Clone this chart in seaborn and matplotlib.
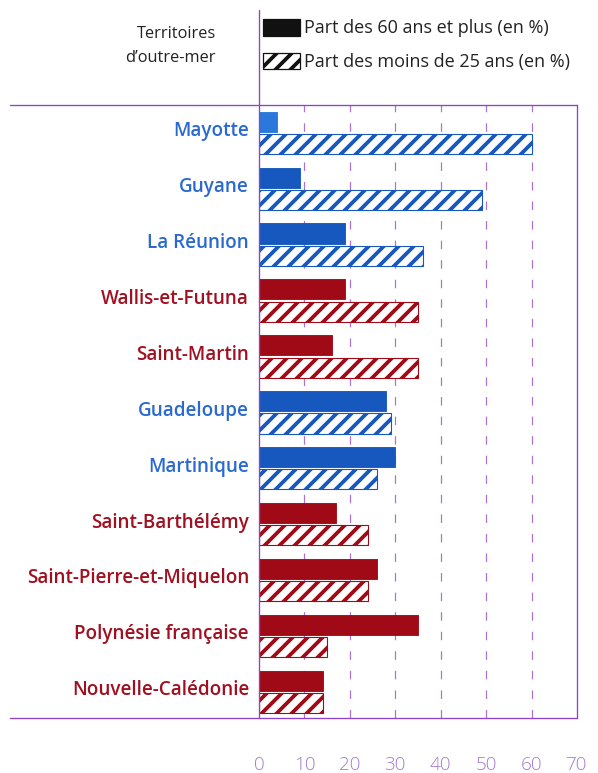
import pandas as pd
import numpy as np
import matplotlib.pyplot as plt
import matplotlib.transforms as mtransforms
from matplotlib.patches import Patch
from matplotlib.lines import Line2D
import seaborn as sns

# data
territoires = [
    "Mayotte", "Guyane", "La Réunion", "Wallis-et-Futuna", "Saint-Martin",
    "Guadeloupe", "Martinique", "Saint-Barthélémy", "Saint-Pierre-et-Miquelon",
    "Polynésie française", "Nouvelle-Calédonie",
]
statut = ["DROM", "DROM", "DROM", "COM", "COM", "DROM", "DROM", "COM", "COM", "COM", "COM"]
part_60_plus = [4, 9, 19, 19, 16, 28, 30, 17, 26, 35, 14]
part_moins_25 = [60, 49, 36, 35, 35, 29, 26, 24, 24, 15, 14]
series = ["Part des 60 ans et plus (en %)", "Part des moins de 25 ans (en %)"]
x_ticks = [0, 10, 20, 30, 40, 50, 60, 70]

BLUE = "#1658bd"
BLUE_LIGHT = "#2a78dc"
RED = "#a00a16"
PURPLE = "#8e44c4"
TICK_PURPLE = "#a57ad0"
DARK = "#222222"
couleurs = {"DROM": BLUE, "COM": RED}
couleurs_texte = {"DROM": "#2a6ad0", "COM": "#a01020"}

df = pd.DataFrame({
    "territoire": territoires * 2,
    "serie": [series[0]] * len(territoires) + [series[1]] * len(territoires),
    "valeur": part_60_plus + part_moins_25,
})

# sizes below were tuned at 80 dpi; dpi 90 gives the hatch spacing of the original
W, H, DPI = 598, 773, 90
k = 80 / DPI

sns.set_style("white")
plt.rcParams["font.family"] = ["Open Sans", "DejaVu Sans"]
plt.rcParams["hatch.linewidth"] = 3.4 * k

fig = plt.figure(figsize=(W / DPI, H / DPI), dpi=DPI)
ax = fig.add_axes([259 / W, 1 - 718 / H, (577 - 259) / W, (718 - 105) / H])

# dashed grid behind the bars
for v in x_ticks[1:-1]:
    ax.axvline(v, color=PURPLE, lw=1.1 * k, ls=(0, (7, 9)), alpha=0.75, zorder=0)

sns.barplot(data=df, y="territoire", x="valeur", hue="serie", hue_order=series,
            order=territoires, orient="h", width=0.8, gap=0.1, legend=False,
            ax=ax, zorder=2)

# colour each bar by territory status, hatch the under-25 series
for p in ax.patches:
    yc = p.get_y() + p.get_height() / 2
    i = int(round(yc))
    col = couleurs[statut[i]]
    if yc < i:
        if territoires[i] == "Mayotte":
            col = BLUE_LIGHT
        p.set_facecolor(col)
        p.set_edgecolor(col)
        p.set_linewidth(0.8 * k)
    else:
        p.set_facecolor("white")
        p.set_edgecolor(col)
        p.set_hatch("//")
        p.set_linewidth(1.0 * k)

ax.set_xlim(0, 70)
ax.set_ylim(10.47, -0.5)
ax.set_xticks(x_ticks)
ax.set_xticklabels([str(t) for t in x_ticks], color=TICK_PURPLE, fontsize=17 * k,
                   fontweight="light")
ax.tick_params(axis="x", length=0, pad=34 * k)
ax.tick_params(axis="y", length=0, pad=9 * k)
ax.set_xlabel("")
ax.set_ylabel("")

offset = mtransforms.ScaledTranslation(0, 4 / DPI, fig.dpi_scale_trans)
for lbl, st in zip(ax.get_yticklabels(), statut):
    lbl.set_color(couleurs_texte[st])
    lbl.set_fontsize(17 * k)
    lbl.set_fontweight("semibold")
    lbl.set_transform(lbl.get_transform() + offset)

for s in ["top", "bottom", "left", "right"]:
    ax.spines[s].set_visible(s == "right")
ax.spines["right"].set_color(PURPLE)
ax.spines["right"].set_linewidth(1.2 * k)

# frame lines running past the axes
fx = lambda px: px / W
fy = lambda py: 1 - py / H
for (x0, y0), (x1, y1) in [((10, 105), (577, 105)), ((10, 718), (577, 718)),
                           ((259, 10), (259, 718))]:
    fig.add_artist(Line2D([fx(x0), fx(x1)], [fy(y0), fy(y1)], color=PURPLE,
                          lw=1.2 * k, transform=fig.transFigure))

fig.text(fx(216), fy(46), "Territoires\nd’outre-mer", ha="right", va="center",
         fontsize=14.8 * k, color=DARK, linespacing=1.6, multialignment="right")

handles = [Patch(facecolor="#111111", edgecolor="#111111"),
           Patch(facecolor="white", edgecolor="#111111", hatch="//")]
fig.legend(handles, series, loc="upper left", bbox_to_anchor=(fx(263), fy(19)),
           frameon=False, fontsize=16.2 * k, handlelength=2.05, handleheight=1.05,
           handletextpad=0.25, labelspacing=0.85, borderpad=0, borderaxespad=0,
           labelcolor=DARK)

fig.savefig("out.png", dpi=DPI)
